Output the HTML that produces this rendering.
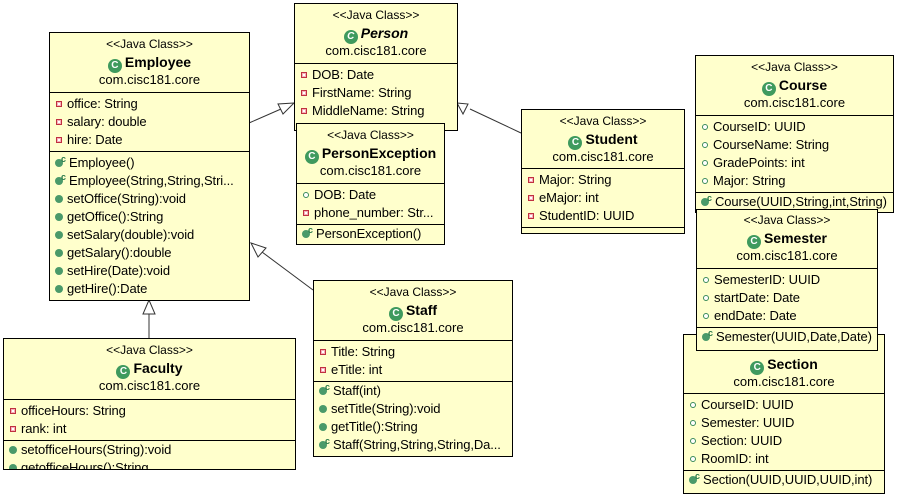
<!DOCTYPE html>
<html><head><meta charset="utf-8"><style>
body{margin:0;width:897px;height:497px;background:#fff;position:relative;overflow:hidden;font-family:"Liberation Sans",sans-serif;font-size:13px;color:#000}
.b{position:absolute;background:#ffffcc;border:1px solid #000;box-sizing:border-box;overflow:hidden}
.h{text-align:center;box-sizing:border-box;padding-top:2px}
.h div{height:18px;line-height:18px}
.h div:first-child{font-size:12px}
.n{font-weight:bold;font-size:14px}
.p{font-style:italic}
.s{border-top:1px solid #000;padding:2px 0}
.r{height:18px;line-height:18px;white-space:nowrap;padding-left:5px;letter-spacing:-0.1px;position:relative}
.i{display:inline-block;width:6px;height:6px;margin:0 5px 1px 1px;vertical-align:middle;box-sizing:border-box}
.pv{border:1px solid #c03040;background:#fff;box-shadow:inset 0 0 0 1px #f7b0b8}
.pu{border:1.5px solid #3a8a5a;border-radius:50%;background:#fff}
.m{width:8px;height:8px;border-radius:50%;background:#4a9a6a;margin-right:4px;margin-left:0}
.c{margin-right:6px}
.cc{position:absolute;top:1px;font-size:9px;line-height:9px;color:#2a7a4a;font-weight:bold}
.ci{display:inline-block;width:14px;height:14px;border-radius:50%;background:#3f9a5e;color:#fff;font-size:10px;font-weight:bold;line-height:14px;text-align:center;vertical-align:-1px;margin-right:3px}
svg{position:absolute;left:0;top:0}
</style></head><body>
<svg width="897" height="497">
<g stroke="#333" stroke-width="1" fill="#fff">
<line x1="249" y1="123" x2="281" y2="109"/>
<polygon points="294,103 278,104 283,114"/>
<line x1="521" y1="133" x2="470" y2="109"/>
<polygon points="457,103 468,104 463,114"/>
<line x1="313" y1="290" x2="262" y2="252"/>
<polygon points="251,243 258,257 266,248"/>
<line x1="149" y1="339" x2="149" y2="314"/>
<polygon points="149,300 143,314 155,314"/>
</g></svg>

<div class="b" style="left:49px;top:32px;width:201px;height:269px">
<div class="h" style="height:59px"><div>&lt;&lt;Java Class&gt;&gt;</div><div class="n"><span class="ci">C</span>Employee</div><div>com.cisc181.core</div></div>
<div class="s"><div class="r"><span class="i pv"></span>office: String</div><div class="r"><span class="i pv"></span>salary: double</div><div class="r"><span class="i pv"></span>hire: Date</div></div>
<div class="s"><div class="r"><span class="i m c"></span><span class="cc" style="left:11px">c</span>Employee()</div><div class="r"><span class="i m c"></span><span class="cc" style="left:11px">c</span>Employee(String,String,Stri...</div><div class="r"><span class="i m"></span>setOffice(String):void</div><div class="r"><span class="i m"></span>getOffice():String</div><div class="r"><span class="i m"></span>setSalary(double):void</div><div class="r"><span class="i m"></span>getSalary():double</div><div class="r"><span class="i m"></span>setHire(Date):void</div><div class="r"><span class="i m"></span>getHire():Date</div></div>
</div>

<div class="b" style="left:294px;top:3px;width:164px;height:128px">
<div class="h" style="height:59px"><div>&lt;&lt;Java Class&gt;&gt;</div><div class="n p"><span class="ci">C</span>Person</div><div>com.cisc181.core</div></div>
<div class="s"><div class="r"><span class="i pv"></span>DOB: Date</div><div class="r"><span class="i pv"></span>FirstName: String</div><div class="r"><span class="i pv"></span>MiddleName: String</div><div class="r"><span class="i pv"></span>LastName: String</div></div>
</div>

<div class="b" style="left:296px;top:123px;width:149px;height:122px">
<div class="h" style="height:59px"><div>&lt;&lt;Java Class&gt;&gt;</div><div class="n"><span class="ci">C</span>PersonException</div><div>com.cisc181.core</div></div>
<div class="s"><div class="r"><span class="i pu"></span>DOB: Date</div><div class="r"><span class="i pv"></span>phone_number: Str...</div></div>
<div class="s" style="padding-top:0"><div class="r"><span class="i m c"></span><span class="cc" style="left:11px">c</span>PersonException()</div></div>
</div>

<div class="b" style="left:521px;top:109px;width:164px;height:125px">
<div class="h" style="height:58px"><div>&lt;&lt;Java Class&gt;&gt;</div><div class="n"><span class="ci">C</span>Student</div><div>com.cisc181.core</div></div>
<div class="s"><div class="r"><span class="i pv"></span>Major: String</div><div class="r"><span class="i pv"></span>eMajor: int</div><div class="r"><span class="i pv"></span>StudentID: UUID</div></div>
<div class="s"></div>
</div>

<div class="b" style="left:695px;top:55px;width:199px;height:158px">
<div class="h" style="height:59px"><div>&lt;&lt;Java Class&gt;&gt;</div><div class="n"><span class="ci">C</span>Course</div><div>com.cisc181.core</div></div>
<div class="s"><div class="r"><span class="i pu"></span>CourseID: UUID</div><div class="r"><span class="i pu"></span>CourseName: String</div><div class="r"><span class="i pu"></span>GradePoints: int</div><div class="r"><span class="i pu"></span>Major: String</div></div>
<div class="s" style="padding-top:0"><div class="r"><span class="i m c"></span><span class="cc" style="left:11px">c</span>Course(UUID,String,int,String)</div></div>
</div>

<div class="b" style="left:683px;top:334px;width:202px;height:160px">
<div class="h" style="height:58px;padding-top:2px"><div></div><div class="n"><span class="ci">C</span>Section</div><div>com.cisc181.core</div></div>
<div class="s"><div class="r"><span class="i pu"></span>CourseID: UUID</div><div class="r"><span class="i pu"></span>Semester: UUID</div><div class="r"><span class="i pu"></span>Section: UUID</div><div class="r"><span class="i pu"></span>RoomID: int</div></div>
<div class="s" style="padding-top:0"><div class="r"><span class="i m c"></span><span class="cc" style="left:11px">c</span>Section(UUID,UUID,UUID,int)</div></div>
</div>

<div class="b" style="left:696px;top:209px;width:182px;height:142px">
<div class="h" style="height:58px;padding-top:1px"><div>&lt;&lt;Java Class&gt;&gt;</div><div class="n"><span class="ci">C</span>Semester</div><div>com.cisc181.core</div></div>
<div class="s"><div class="r"><span class="i pu"></span>SemesterID: UUID</div><div class="r"><span class="i pu"></span>startDate: Date</div><div class="r"><span class="i pu"></span>endDate: Date</div></div>
<div class="s" style="padding-top:0"><div class="r"><span class="i m c"></span><span class="cc" style="left:11px">c</span>Semester(UUID,Date,Date)</div></div>
</div>

<div class="b" style="left:313px;top:280px;width:200px;height:177px">
<div class="h" style="height:59px"><div>&lt;&lt;Java Class&gt;&gt;</div><div class="n"><span class="ci">C</span>Staff</div><div>com.cisc181.core</div></div>
<div class="s"><div class="r"><span class="i pv"></span>Title: String</div><div class="r"><span class="i pv"></span>eTitle: int</div></div>
<div class="s" style="padding-top:0"><div class="r"><span class="i m c"></span><span class="cc" style="left:11px">c</span>Staff(int)</div><div class="r"><span class="i m"></span>setTitle(String):void</div><div class="r"><span class="i m"></span>getTitle():String</div><div class="r"><span class="i m c"></span><span class="cc" style="left:11px">c</span>Staff(String,String,String,Da...</div></div>
</div>

<div class="b" style="left:3px;top:338px;width:293px;height:132px">
<div class="h" style="height:60px"><div>&lt;&lt;Java Class&gt;&gt;</div><div class="n"><span class="ci">C</span>Faculty</div><div>com.cisc181.core</div></div>
<div class="s"><div class="r"><span class="i pv"></span>officeHours: String</div><div class="r"><span class="i pv"></span>rank: int</div></div>
<div class="s" style="padding-top:0"><div class="r"><span class="i m"></span>setofficeHours(String):void</div><div class="r"><span class="i m"></span>getofficeHours():String</div></div>
</div>
</body></html>
